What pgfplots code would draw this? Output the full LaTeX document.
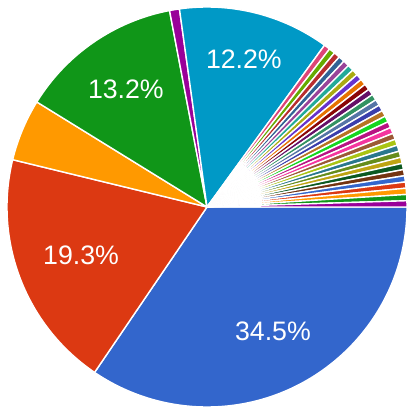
\documentclass[border=0pt]{standalone}
\usepackage{pgfplots}
\usepackage{pgfplotstable}
\pgfplotsset{compat=1.18}
\usepackage{fontspec}
\setmainfont{Liberation Sans}

% Google chart palette
\definecolor{pc0}{HTML}{3366CC}
\definecolor{pc1}{HTML}{DC3912}
\definecolor{pc2}{HTML}{FF9900}
\definecolor{pc3}{HTML}{109618}
\definecolor{pc4}{HTML}{990099}
\definecolor{pc5}{HTML}{0099C6}
\definecolor{pc6}{HTML}{DD4477}
\definecolor{pc7}{HTML}{66AA00}
\definecolor{pc8}{HTML}{B82E2E}
\definecolor{pc9}{HTML}{316395}
\definecolor{pc10}{HTML}{994499}
\definecolor{pc11}{HTML}{22AA99}
\definecolor{pc12}{HTML}{AAAA11}
\definecolor{pc13}{HTML}{6633CC}
\definecolor{pc14}{HTML}{E67300}
\definecolor{pc15}{HTML}{8B0707}
\definecolor{pc16}{HTML}{651067}
\definecolor{pc17}{HTML}{329262}
\definecolor{pc18}{HTML}{5574A6}
\definecolor{pc19}{HTML}{3B3EAC}
\definecolor{pc20}{HTML}{B77322}
\definecolor{pc21}{HTML}{16D620}
\definecolor{pc22}{HTML}{B91383}
\definecolor{pc23}{HTML}{F4359E}
\definecolor{pc24}{HTML}{9C5935}
\definecolor{pc25}{HTML}{A9C413}
\definecolor{pc26}{HTML}{2A778D}
\definecolor{pc27}{HTML}{668D1C}
\definecolor{pc28}{HTML}{BEA413}
\definecolor{pc29}{HTML}{0C5922}
\definecolor{pc30}{HTML}{743411}

% v = percent, c = colour index, r = label radius (0 = no label)
\pgfplotstableread{
v c r
34.5 0 0.705
19.3 1 0.675
5.0 2 0
13.2 3 0.715
0.8 4 0
12.2 5 0.76
0.5 6 0
0.5 7 0
0.5 8 0
0.5 9 0
0.5 10 0
0.5 11 0
0.5 12 0
0.5 13 0
0.5 14 0
0.5 15 0
0.5 16 0
0.5 17 0
0.5 18 0
0.5 19 0
0.5 20 0
0.5 21 0
0.5 22 0
0.5 23 0
0.5 24 0
0.5 25 0
0.5 26 0
0.5 27 0
0.5 28 0
0.5 29 0
0.5 30 0
0.5 0 0
0.5 1 0
0.5 2 0
0.5 3 0
0.5 4 0
}\piedata

\begin{document}
\begin{tikzpicture}
\begin{axis}[scale only axis, width=10.35cm, height=10.375cm,
  xmin=-1.035, xmax=1.035, ymin=-1.04, ymax=1.035,
  hide axis, clip=false]
\pgfplotsextra{
  \gdef\cum{0}
  \pgfplotstablegetrowsof{\piedata}
  \pgfmathtruncatemacro\nrows{\pgfplotsretval-1}
  \foreach \i in {0,...,\nrows}{
    \pgfplotstablegetelem{\i}{v}\of\piedata \let\val\pgfplotsretval
    \pgfplotstablegetelem{\i}{c}\of\piedata \let\cidx\pgfplotsretval
    \pgfplotstablegetelem{\i}{r}\of\piedata \let\lr\pgfplotsretval
    \pgfmathsetmacro\aA{-3.6*\cum}
    \pgfmathsetmacro\aB{-3.6*(\cum+\val)}
    \pgfmathsetmacro\aM{(\aA+\aB)/2}
    \pgfmathsetmacro\rr{\lr*5}
    \fill[pc\cidx, draw=white, line width=1pt, line join=round]
      (axis cs:0,0) -- ++(\aA:5cm) arc[start angle=\aA, end angle=\aB, radius=5cm] -- cycle;
    \ifdim\lr pt>0pt
      \path (axis cs:0,0) ++(\aM:\rr cm) node[text=white, font=\fontsize{19}{21}\selectfont] {\val\%};
    \fi
    \pgfmathsetmacro\newcum{\cum+\val}
    \xdef\cum{\newcum}
  }
}
\end{axis}
\pgfresetboundingbox
\path (current axis.south west) rectangle (current axis.north east);
\end{tikzpicture}
\end{document}
